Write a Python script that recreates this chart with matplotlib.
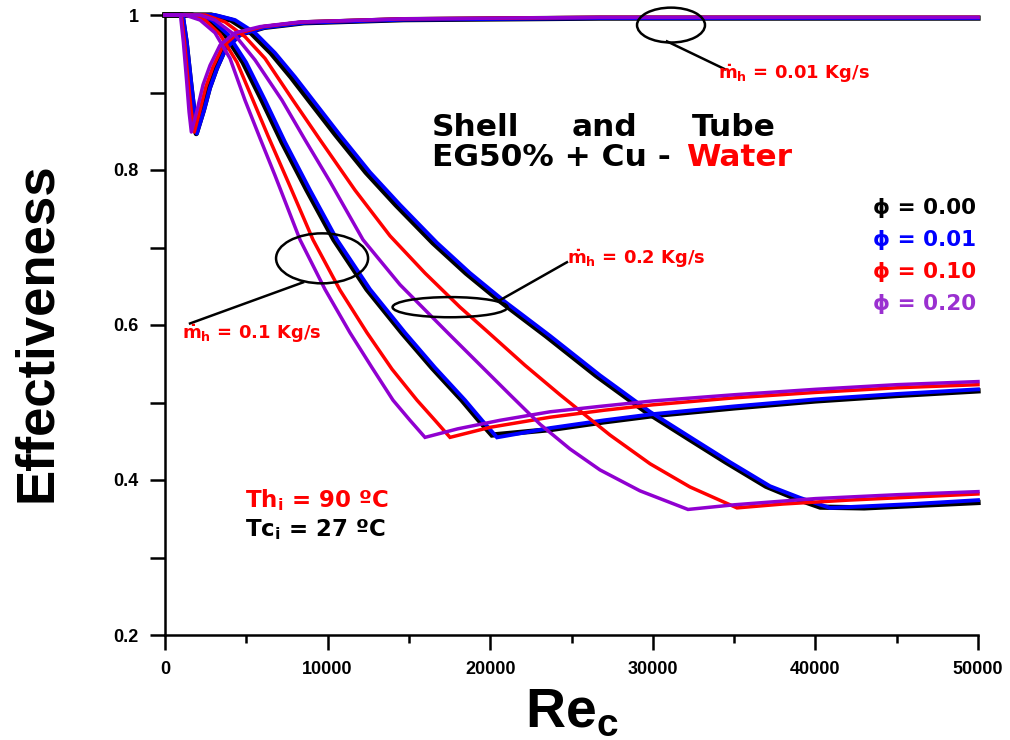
import matplotlib
matplotlib.use('Agg')
import matplotlib.pyplot as plt
from matplotlib.patches import Ellipse
from matplotlib.ticker import MultipleLocator, FuncFormatter

plt.rcParams['font.family'] = ['DejaVu Sans']
plt.rcParams['font.weight'] = 'bold'
plt.rcParams['mathtext.fontset'] = 'custom'
plt.rcParams['mathtext.rm'] = 'DejaVu Sans:bold'
plt.rcParams['mathtext.it'] = 'DejaVu Sans:bold'
plt.rcParams['mathtext.bf'] = 'DejaVu Sans:bold'

AXFONT = ['Liberation Sans Narrow', 'Liberation Sans', 'DejaVu Sans']

phi_labels = ['0.00', '0.01', '0.10', '0.20']
phi_colors = ['#000000', '#0000ff', '#ff0000', '#9000d0']
phi_widths = [3.8, 2.8, 2.5, 2.5]

# m_h = 0.01 kg/s : sharp dip then back towards 1
x_01 = [
    [0, 1050, 1300, 1560, 1780, 1920, 2360, 2730, 3160, 3710, 4600, 6100, 8550, 14700, 26750, 50000],
    [0, 1100, 1340, 1600, 1820, 1960, 2400, 2770, 3200, 3750, 4650, 6150, 8600, 14750, 26750, 50000],
    [0, 1000, 1200, 1420, 1620, 1800, 2150, 2520, 2950, 3530, 4450, 6000, 8450, 14600, 26750, 50000],
    [0, 950, 1130, 1330, 1480, 1620, 1970, 2340, 2770, 3380, 4300, 5840, 8300, 14450, 26750, 50000],
]
y_01 = [
    [1.0, 1.0, 0.965, 0.915, 0.875, 0.847, 0.877, 0.906, 0.931, 0.957, 0.975, 0.984, 0.990, 0.994, 0.996, 0.996],
    [1.0, 1.0, 0.965, 0.915, 0.875, 0.847, 0.877, 0.906, 0.931, 0.957, 0.975, 0.984, 0.990, 0.994, 0.996, 0.996],
    [1.0, 1.0, 0.965, 0.915, 0.875, 0.849, 0.877, 0.908, 0.933, 0.959, 0.976, 0.985, 0.991, 0.995, 0.997, 0.997],
    [1.0, 1.0, 0.965, 0.915, 0.875, 0.849, 0.877, 0.910, 0.935, 0.961, 0.977, 0.985, 0.991, 0.995, 0.997, 0.997],
]

# m_h = 0.1 kg/s
x_1 = [
    [0, 1660, 2700, 3690, 4800, 5965, 7195, 8730, 10390, 12420, 14575, 16420, 18265, 19310, 20110,
     23680, 27000, 30000, 35000, 40000, 45000, 50000],
    [0, 1845, 2891, 3875, 4982, 6150, 7380, 8918, 10578, 12608, 14760, 16605, 18450, 19496, 20418,
     23680, 27000, 30000, 35000, 40000, 45000, 50000],
    [0, 1538, 2460, 3383, 4428, 5412, 6335, 7688, 9102, 10763, 12423, 13961, 15498, 16605, 17528,
     20000, 23680, 27000, 30000, 35000, 40000, 45000, 50000],
    [0, 1230, 2153, 3075, 3998, 4920, 5843, 6765, 8303, 9840, 11378, 12731, 14022, 15068, 15990,
     18000, 20600, 23680, 26750, 30000, 35000, 40000, 45000, 50000],
]
y_1 = [
    [1.0, 1.0, 0.9935, 0.975, 0.939, 0.890, 0.836, 0.774, 0.710, 0.646, 0.590, 0.545, 0.503, 0.477, 0.458,
     0.465, 0.475, 0.483, 0.493, 0.502, 0.509, 0.515],
    [1.0, 1.0, 0.9935, 0.975, 0.939, 0.890, 0.836, 0.774, 0.710, 0.646, 0.590, 0.545, 0.503, 0.477, 0.455,
     0.467, 0.477, 0.485, 0.495, 0.504, 0.511, 0.517],
    [1.0, 1.0, 0.9935, 0.975, 0.939, 0.890, 0.844, 0.779, 0.710, 0.645, 0.590, 0.543, 0.503, 0.477, 0.455,
     0.468, 0.481, 0.490, 0.497, 0.506, 0.513, 0.519, 0.523],
    [1.0, 1.0, 0.9935, 0.977, 0.944, 0.890, 0.841, 0.793, 0.710, 0.646, 0.590, 0.545, 0.503, 0.477, 0.455,
     0.466, 0.477, 0.488, 0.495, 0.502, 0.510, 0.517, 0.523, 0.527],
]

# m_h = 0.2 kg/s
x_2 = [
    [0, 2830, 4060, 5290, 6520, 7750, 8850, 10510, 12360, 14200, 16480, 18510, 20660, 23430, 26500,
     29580, 32220, 34500, 36960, 38800, 40300,
     43000, 46000, 50000],
    [0, 3075, 4305, 5535, 6765, 7995, 9102, 10763, 12608, 14453, 16728, 18758, 20910, 23678, 26753,
     29828, 32472, 34748, 37208, 39053, 40898,
     43000, 46000, 50000],
    [0, 2460, 3690, 4920, 6150, 7872, 9533, 11685, 13838, 15990, 18143, 19803, 22140, 24293, 27368,
     29828, 32288, 35178,
     38000, 42000, 46000, 50000],
    [0, 2153, 3075, 4305, 5535, 7196, 8610, 10148, 12177, 14453, 17528, 21218, 23063, 24908, 26753,
     29213, 32165,
     35000, 40000, 45000, 50000],
]
y_2 = [
    [1.0, 1.0, 0.9935, 0.977, 0.951, 0.920, 0.890, 0.845, 0.797, 0.755, 0.706, 0.667, 0.630, 0.586, 0.535,
     0.488, 0.453, 0.423, 0.392, 0.376, 0.365,
     0.364, 0.367, 0.371],
    [1.0, 1.0, 0.9935, 0.977, 0.951, 0.920, 0.890, 0.845, 0.797, 0.755, 0.706, 0.667, 0.630, 0.586, 0.535,
     0.488, 0.453, 0.423, 0.392, 0.377, 0.364,
     0.366, 0.369, 0.374],
    [1.0, 1.0, 0.991, 0.972, 0.944, 0.890, 0.839, 0.774, 0.715, 0.667, 0.623, 0.592, 0.548, 0.510, 0.458,
     0.421, 0.391, 0.364,
     0.369, 0.374, 0.378, 0.382],
    [1.0, 1.0, 0.9935, 0.974, 0.942, 0.890, 0.839, 0.785, 0.710, 0.652, 0.587, 0.510, 0.472, 0.440, 0.413,
     0.386, 0.362,
     0.368, 0.376, 0.381, 0.385],
]

fig = plt.figure(figsize=(10.1, 7.4), dpi=100)
ax = fig.add_axes([165 / 1010, 1 - 635 / 740, 813 / 1010, 620 / 740])

for xs, ys, join in [(x_1, y_1, 'miter'), (x_2, y_2, 'miter'), (x_01, y_01, 'round')]:
    for i in range(4):
        ax.plot(xs[i], ys[i], color=phi_colors[i], lw=phi_widths[i],
                solid_joinstyle=join, clip_on=False, zorder=3 + i)

ax.set_xlim(0, 50000)
ax.set_ylim(0.2, 1.0)
ax.spines['top'].set_visible(False)
ax.spines['right'].set_visible(False)
ax.spines['left'].set_linewidth(1.8)
ax.spines['bottom'].set_linewidth(1.8)
ax.xaxis.set_major_locator(MultipleLocator(10000))
ax.xaxis.set_minor_locator(MultipleLocator(5000))
ax.yaxis.set_major_locator(MultipleLocator(0.2))
ax.yaxis.set_minor_locator(MultipleLocator(0.1))
ax.yaxis.set_major_formatter(FuncFormatter(lambda v, p: '%g' % round(v, 2)))
ax.tick_params(which='major', direction='out', length=11, width=1.8, pad=8)
ax.tick_params(axis='x', which='minor', direction='out', length=6, width=1.8)
ax.tick_params(axis='y', which='minor', direction='out', length=11, width=1.8)
for lab in ax.get_xticklabels() + ax.get_yticklabels():
    lab.set_family(AXFONT)
    lab.set_fontweight('bold')
    lab.set_fontsize(13)

ax.set_ylabel('Effectiveness', family=AXFONT, fontsize=38, fontweight='bold')
ax.yaxis.set_label_coords(-0.127, 0.489)
ax.set_xlabel(r'Re$_\mathregular{c}$', family=AXFONT, fontsize=40, fontweight='bold', labelpad=6)

# ellipses marking each mass-flow group, with leader lines
ellipses = [((31120, 0.987), 4180, 0.045), ((9660, 0.686), 5660, 0.0645), ((17530, 0.623), 7070, 0.026)]
for (cx, cy), w, h in ellipses:
    ax.add_patch(Ellipse((cx, cy), w, h, fill=False, ec='black', lw=1.8, zorder=10, clip_on=False))
leaders = [((30870, 34440), (0.966, 0.930)), ((8490, 1540), (0.655, 0.602)), ((20600, 24720), (0.632, 0.681))]
for lx, ly in leaders:
    ax.plot(lx, ly, color='black', lw=1.8, zorder=10)

mh_texts = [(34010, 0.924, '0.01'), (1050, 0.589, '0.1'), (24720, 0.686, '0.2')]
for tx, ty, val in mh_texts:
    ax.text(tx, ty, r'$\dot{\mathregular{m}}_\mathregular{h}$ = ' + val + ' Kg/s',
            color='red', fontsize=13, fontweight='bold', va='center', ha='left', zorder=11)

# title block
fig.text(432 / 1010, 1 - 127 / 740, 'Shell', fontsize=22.5, fontweight='bold', va='center')
fig.text(572 / 1010, 1 - 127 / 740, 'and', fontsize=22.5, fontweight='bold', va='center')
fig.text(692 / 1010, 1 - 127 / 740, 'Tube', fontsize=22.5, fontweight='bold', va='center')
fig.text(432 / 1010, 1 - 158 / 740, 'EG50% + Cu - ', fontsize=22.5, fontweight='bold', va='center')
fig.text(686 / 1010, 1 - 158 / 740, 'Water', fontsize=22.5, fontweight='bold', va='center', color='red')

# phi legend
for i, lab in enumerate(phi_labels):
    fig.text(873 / 1010, 1 - (208 + 32 * i) / 740, 'ϕ = ' + lab, fontsize=15.5, fontweight='bold',
             va='center', color=phi_colors[i] if i != 3 else '#9a30d0')

fig.text(245 / 1010, 1 - 500 / 740, r'Th$_\mathregular{i}$ = 90 ºC', fontsize=16.5,
         fontweight='bold', va='center', color='red')
fig.text(245 / 1010, 1 - 530 / 740, r'Tc$_\mathregular{i}$ = 27 ºC', fontsize=16.5,
         fontweight='bold', va='center', color='black')

fig.savefig('out.png', dpi=100)
